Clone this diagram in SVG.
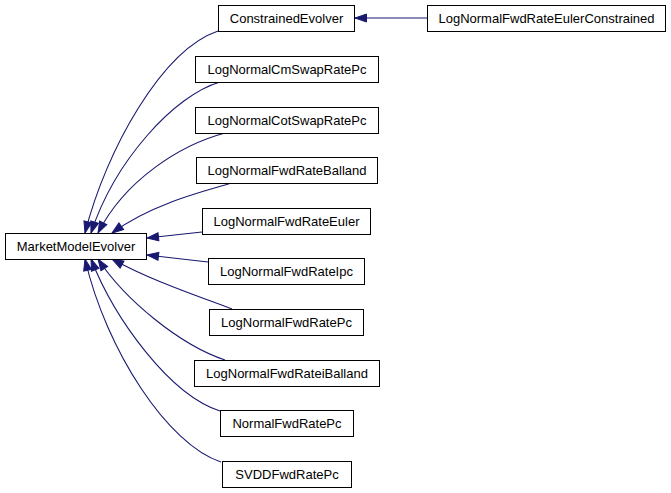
<svg xmlns="http://www.w3.org/2000/svg" width="671" height="493" viewBox="0 0 671 493">
<style>
.node rect{fill:#fff;stroke:#000;stroke-width:1}
.node text{font-family:"Liberation Sans",Arial,sans-serif;font-size:13px;fill:#000;text-anchor:middle}
.edge{fill:none;stroke:#191970;stroke-width:1.1;marker-end:url(#ah)}
</style>
<defs>
<marker id="ah" markerWidth="14" markerHeight="10" refX="12.5" refY="5" orient="auto" markerUnits="userSpaceOnUse" overflow="visible">
<path d="M1,1 L12.5,5 L1,9 Z" fill="#191970" stroke="#191970" stroke-width="1"/>
</marker>
</defs>
<rect width="671" height="493" fill="#fff"/>
<g id="connectors">
<path class="edge" d="M427,18 L355,18"/>
<path class="edge" d="M218,31 C162,50 106,150 85,233"/>
<path class="edge" d="M220,82 C175,95 115,160 91,233"/>
<path class="edge" d="M225,133 C180,145 125,180 98,233"/>
<path class="edge" d="M232,183 C200,192 150,205 112,233"/>
<path class="edge" d="M202,232 L147,238"/>
<path class="edge" d="M208,262 L147,255"/>
<path class="edge" d="M232,309 C195,295 150,280 112,259"/>
<path class="edge" d="M225,360 C180,345 125,300 98,259"/>
<path class="edge" d="M220,411 C170,395 115,320 91,259"/>
<path class="edge" d="M221,462 C168,445 106,350 85,259"/>
</g>
<g id="MarketModelEvolver" class="node"><rect x="5.5" y="233.5" width="141" height="26"/><text x="76" y="251">MarketModelEvolver</text></g>
<g id="ConstrainedEvolver" class="node"><rect x="218.5" y="5.5" width="136" height="26"/><text x="286.5" y="23">ConstrainedEvolver</text></g>
<g id="LogNormalFwdRateEulerConstrained" class="node"><rect x="427.5" y="5.5" width="238" height="26"/><text x="546.5" y="23">LogNormalFwdRateEulerConstrained</text></g>
<g id="LogNormalCmSwapRatePc" class="node"><rect x="195.5" y="56.5" width="183" height="26"/><text x="287" y="74">LogNormalCmSwapRatePc</text></g>
<g id="LogNormalCotSwapRatePc" class="node"><rect x="195.5" y="107.5" width="183" height="26"/><text x="287" y="125">LogNormalCotSwapRatePc</text></g>
<g id="LogNormalFwdRateBalland" class="node"><rect x="196.5" y="157.5" width="181" height="26"/><text x="287" y="175">LogNormalFwdRateBalland</text></g>
<g id="LogNormalFwdRateEuler" class="node"><rect x="202.5" y="208.5" width="168" height="26"/><text x="286.5" y="226">LogNormalFwdRateEuler</text></g>
<g id="LogNormalFwdRateIpc" class="node"><rect x="208.5" y="258.5" width="156" height="26"/><text x="286.5" y="276">LogNormalFwdRateIpc</text></g>
<g id="LogNormalFwdRatePc" class="node"><rect x="209.5" y="309.5" width="154" height="26"/><text x="286.5" y="327">LogNormalFwdRatePc</text></g>
<g id="LogNormalFwdRateiBalland" class="node"><rect x="194.5" y="360.5" width="185" height="26"/><text x="287" y="378">LogNormalFwdRateiBalland</text></g>
<g id="NormalFwdRatePc" class="node"><rect x="220.5" y="410.5" width="133" height="26"/><text x="287" y="428">NormalFwdRatePc</text></g>
<g id="SVDDFwdRatePc" class="node"><rect x="222.5" y="461.5" width="129" height="26"/><text x="287" y="479">SVDDFwdRatePc</text></g>
</svg>
